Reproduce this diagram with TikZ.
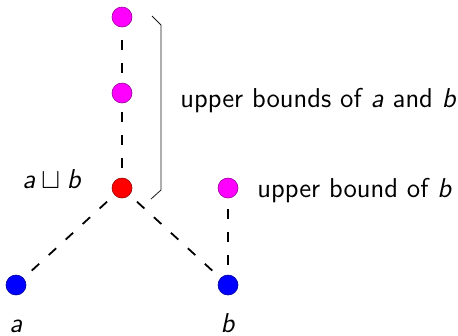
\documentclass[tikz,border=0pt]{standalone}
\usepackage{amsmath}
\usepackage{amssymb}
\usepackage{fontspec}
\usetikzlibrary{calc, positioning}

\definecolor{ubfill}{RGB}{255,0,255}
\definecolor{lubfill}{RGB}{255,0,0}
\definecolor{basefill}{RGB}{0,0,255}

\tikzset{
	elem/.style={circle, inner sep=0pt, minimum size=10bp, line width=0.3pt},
	ub/.style={elem, fill=ubfill, draw=ubfill!60!black},
	lub/.style={elem, fill=lubfill, draw=lubfill!60!black},
	base/.style={elem, fill=basefill, draw=basefill!60!black},
	order/.style={line width=0.9pt, dash pattern=on 5bp off 6.5bp, shorten <=5bp, shorten >=4bp},
	lbl/.style={font=\sffamily\fontsize{13.7}{16}\selectfont, inner sep=0pt}
}

\begin{document}
\begin{tikzpicture}[x=0.5bp, y=-0.5bp]
	\useasboundingbox (0,0) rectangle (458,335);
	
	% elements
	\node[base] (a) at (16,285) {};
	\node[base] (b) at (228,285) {};
	\node[lub] (join) at (122,188) {};
	\node[ub] (up1) at (122,93) {};
	\node[ub] (up2) at (122,17) {};
	\node[ub] (ubb) at (228,188) {};
	
	% order relation
	\draw[order] (join) -- (a);
	\draw[order] (join) -- (b);
	\draw[order] (join) -- (up1);
	\draw[order] (up1) -- (up2);
	\draw[order] (b) -- (ubb);
	
	% labels
	\node[lbl, anchor=base] (la) at (16,332) {\textit{a}};
	\node[lbl, anchor=base] (lb) at (228,332) {\textit{b}};
	\node[lbl, anchor=base east] (ljoin) at (82,188) {\textit{a}\:$\sqcup$\:\textit{b}};
	\node[lbl, anchor=base west] (lubs) at (180,107) {upper bounds of \textit{a} and \textit{b}};
	\node[lbl, anchor=base west] (lubb) at (257,197) {upper bound of \textit{b}};
	
	% bracket
	\draw[line width=0.4pt, black!90] (152,16) -- (161,25) -- (161,190) -- (151,199);
\end{tikzpicture}
\end{document}
